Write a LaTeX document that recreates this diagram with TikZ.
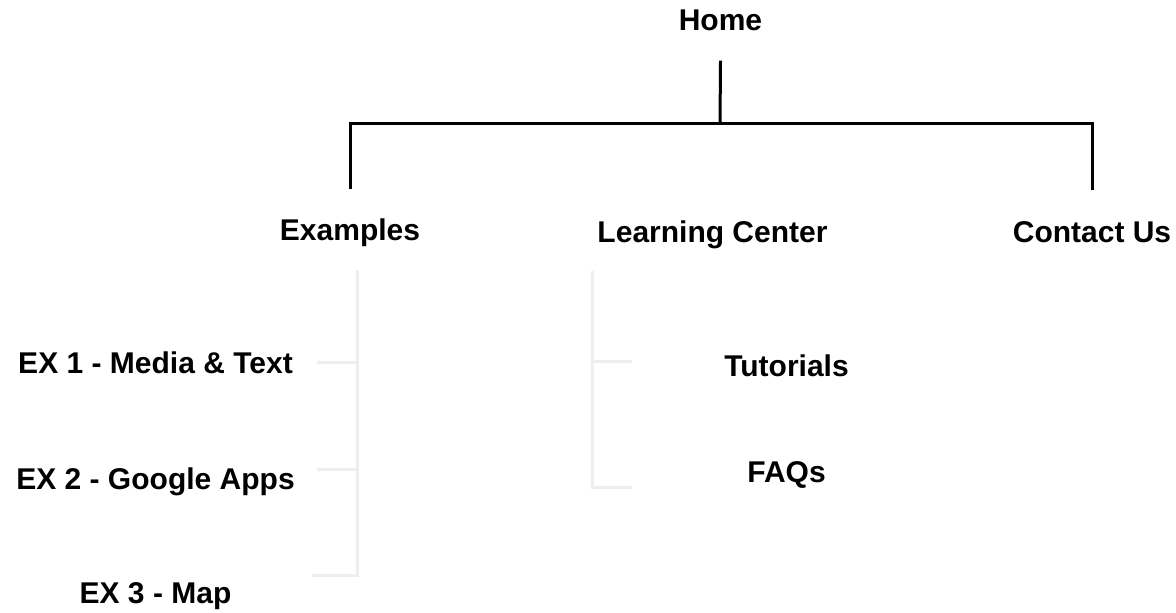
\documentclass[tikz,border=0pt]{standalone}
\usepackage{fontspec}
\setmainfont{Liberation Sans}
\definecolor{bracketgray}{HTML}{EEEEEE}
\tikzset{
  page/.style={font=\bfseries\fontsize{15}{18}\selectfont, anchor=base, inner sep=0pt},
  trunk/.style={line width=1.5pt, black},
  branch/.style={line width=1.5pt, bracketgray}
}

\begin{document}
\begin{tikzpicture}[x=0.5pt,y=-0.5pt]
  \useasboundingbox (0,0) rectangle (1176,613);

  % top level
  \node[page] (home) at (720.5,31) {Home};
  \node[page] (examples) at (350,241) {Examples};
  \node[page] (learning) at (712.5,243) {Learning Center};
  \node[page] (contact) at (1092,243) {Contact Us};

  \coordinate (hub) at (720,124);
  \draw[trunk] ([yshift=-14.5pt]home.south) -- (hub);
  \draw[trunk] ([yshift=15pt]examples.north) |- (hub) -| ([yshift=16pt]contact.north);

  % examples
  \node[page] (ex1) at (155.5,374) {EX 1 - Media \& Text};
  \node[page] (ex2) at (155.5,490) {EX 2 - Google Apps};
  \node[page] (ex3) at (155.5,603) {EX 3 - Map};

  \coordinate (exbar) at (357,270);
  \draw[branch] (exbar) -- ++(0,305) -- ++(-45,0);
  \draw[branch] (exbar) ++(0,93) -- ++(-40,0);
  \draw[branch] (exbar) ++(0,200) -- ++(-40,0);

  % learning center
  \node[page] (tutorials) at (786.5,377) {Tutorials};
  \node[page] (faqs) at (786.5,483) {FAQs};

  \coordinate (lcbar) at (592,271);
  \draw[branch] (lcbar) -- ++(0,217) -- ++(40,0);
  \draw[branch] (lcbar) ++(0,91) -- ++(40,0);
\end{tikzpicture}
\end{document}
